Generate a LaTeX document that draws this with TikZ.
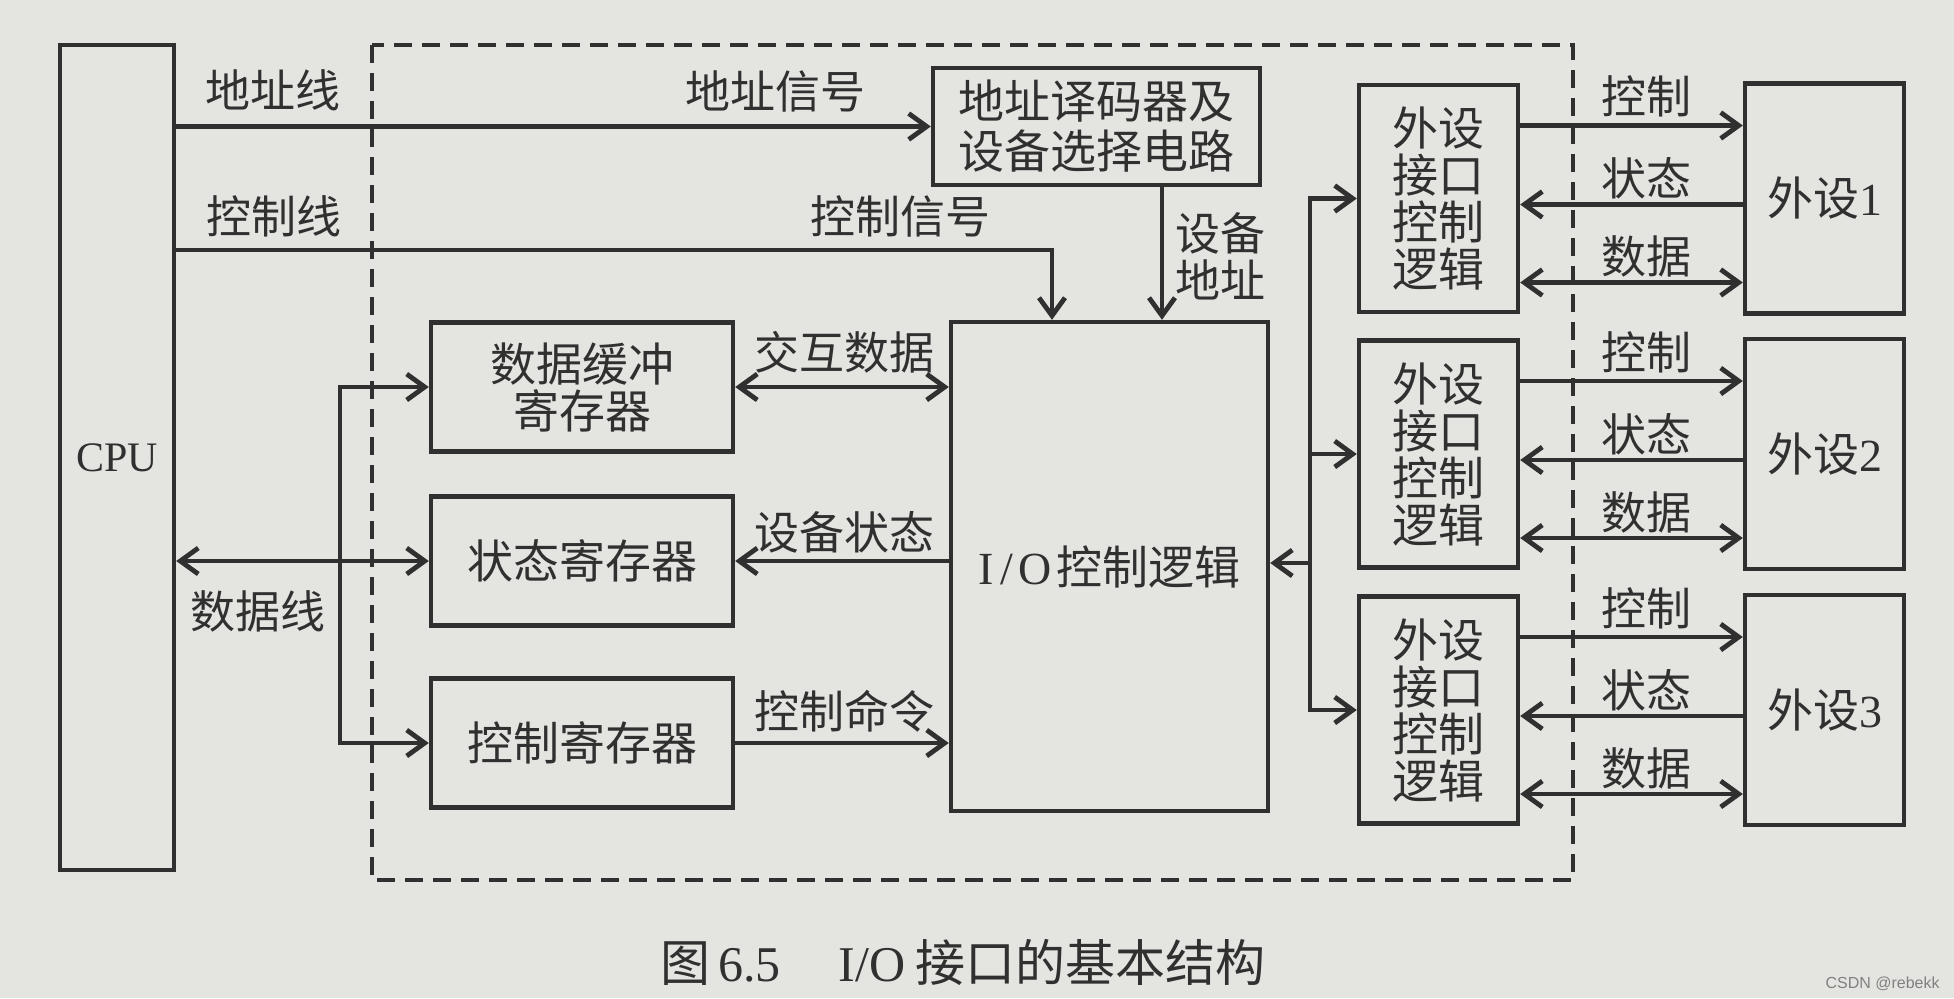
\documentclass[tikz,border=0pt]{standalone}
\usepackage{fontspec}
\setmainfont{Liberation Serif}
\newfontfamily\cjk{Noto Sans CJK SC}
\newfontfamily\wm{Liberation Sans}
\usetikzlibrary{arrows.meta,calc}
\definecolor{paper}{RGB}{228,228,225}
\definecolor{ink}{RGB}{48,48,48}
\begin{document}
\begin{tikzpicture}[x=0.5pt,y=-0.5pt,
  box/.style={draw=ink, line width=2.2pt, inner sep=0pt, text=ink, align=center,
    font=\cjk\fontsize{23}{23.5}\selectfont},
  lbl/.style={inner sep=0pt, text=ink, align=center, font=\cjk\fontsize{22.5}{23.5}\selectfont},
  conn/.style={draw=ink, line width=2.4pt},
  barb/.tip={Straight Barb[length=9pt,width=13pt]},
  arr/.style={conn, -barb},
  darr/.style={conn, barb-barb},
  ifbox/.style={box, minimum width=79.5pt, minimum height=113.5pt},
  pbox/.style={box, minimum width=79.5pt, minimum height=115pt},
  regbox/.style={box, minimum width=151pt, minimum height=64.5pt}
]
\fill[paper] (0,0) rectangle (1954,998);
\useasboundingbox (0,0) rectangle (1954,998);

% dashed interface boundary
\draw[ink, line width=2pt, dash pattern=on 9pt off 5pt] (372,45) rectangle (1573,880);

% boxes
\node[box, minimum width=57pt, minimum height=412.5pt, font=\rmfamily\fontsize{21}{22}\selectfont] (cpu) at (117,457.5) {CPU};
\node[box, minimum width=163.5pt, minimum height=58.5pt, font=\cjk\fontsize{23}{25}\selectfont] (dec) at (1096.5,126.5) {地址译码器及\\设备选择电路};
\node[box, minimum width=158.5pt, minimum height=244.5pt] (io) at (1109.5,566.5) {{\rmfamily I\hspace{3pt}/\hspace{3pt}O\hspace{2pt}}控制逻辑};
\node[regbox] (buf) at (582,387) {数据缓冲\\寄存器};
\node[regbox] (stat) at (582,561) {状态寄存器};
\node[regbox] (ctrl) at (582,743) {控制寄存器};
\node[ifbox] (if1) at (1438.5,198.5) {外设\\接口\\控制\\逻辑};
\node[ifbox] (if2) at (1438.5,454) {外设\\接口\\控制\\逻辑};
\node[ifbox] (if3) at (1438.5,710) {外设\\接口\\控制\\逻辑};
\node[pbox] (p1) at (1824.5,198.5) {外设{\rmfamily 1}};
\node[pbox] (p2) at (1824.5,454) {外设{\rmfamily 2}};
\node[pbox] (p3) at (1824.5,710) {外设{\rmfamily 3}};

% helper coordinates
\coordinate (cx) at (1052,250);
\coordinate (dx) at (1162,0);
\coordinate (lbx) at (340,0);
\coordinate (rbx) at (1310,0);
\coordinate (ioy) at (0,563);

% CPU side buses
\draw[arr] (cpu.east |- dec.west) -- (dec.west);
\draw[arr] (cpu.east |- cx) -- (cx) -- (cx |- io.north);
\draw[darr] (cpu.east |- stat.west) -- (stat.west);
\draw[darr] (buf.west) -- (buf.west -| lbx) -- (ctrl.west -| lbx) -- (ctrl.west);

% inside
\draw[arr] (dx |- dec.south) -- (dx |- io.north);
\draw[darr] (buf.east) -- (buf.east -| io.west);
\draw[arr] (stat.east -| io.west) -- (stat.east);
\draw[arr] (ctrl.east) -- (ctrl.east -| io.west);

% right bus
\draw[darr] (if1.west) -- (if1.west -| rbx) -- (if3.west -| rbx) -- (if3.west);
\draw[arr] (if2.west -| rbx) -- (if2.west);
\draw[arr] (rbx |- ioy) -- (io.east |- ioy);

% peripheral signals
\foreach \i in {1,2,3} {
  \draw[arr] ($(if\i.east)+(0,-73)$) -- ($(p\i.west)+(0,-73)$);
  \draw[arr] ($(p\i.west)+(0,6)$) -- ($(if\i.east)+(0,6)$);
  \draw[darr] ($(if\i.east)+(0,84)$) -- ($(p\i.west)+(0,84)$);
  \node[lbl] (kz\i) at ($(if\i.east)!0.5!(p\i.west)+(15,-102)$) {控制};
  \node[lbl] (zt\i) at ($(if\i.east)!0.5!(p\i.west)+(15,-20)$) {状态};
  \node[lbl] (sj\i) at ($(if\i.east)!0.5!(p\i.west)+(15,58)$) {数据};
}

% labels
\node[lbl] (l1) at (273,90) {地址线};
\node[lbl] (l2) at (775,91) {地址信号};
\node[lbl] (l3) at (274,216) {控制线};
\node[lbl] (l4) at (900,216) {控制信号};
\node[lbl] (l5) at (844,352) {交互数据};
\node[lbl] (l6) at (844,532) {设备状态};
\node[lbl] (l7) at (844,711) {控制命令};
\node[lbl] (l8) at (258,611) {数据线};
\node[lbl] (l9) at (1220,256) {设备\\地址};

% caption
\node[anchor=west, inner sep=0pt, text=ink, font=\fontsize{25}{26}\selectfont] (cap) at (660,962)
  {{\cjk 图}\hspace{4pt}6.5\hspace{29pt}I/O\hspace{5pt}{\cjk 接口的基本结构}};
\node[anchor=east, inner sep=0pt, text=gray, font=\wm\fontsize{8}{9}\selectfont] (wmk) at (1940,984) {CSDN @rebekk};
\end{tikzpicture}
\end{document}
